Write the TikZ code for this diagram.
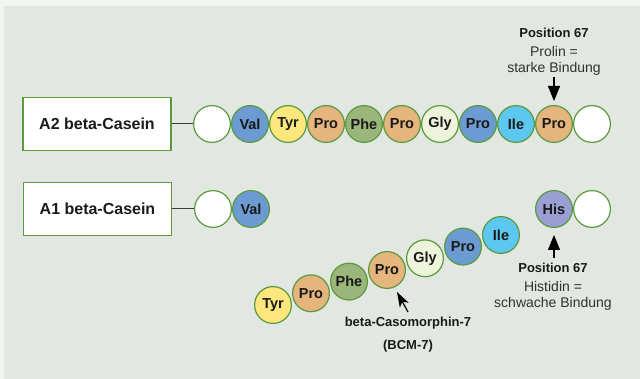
\documentclass[tikz,border=0pt]{standalone}
\usepackage{fontspec}
\setmainfont{Liberation Sans}
\usepackage{tikz}
\usetikzlibrary{shapes, arrows.meta, positioning}
\definecolor{outerbg}{HTML}{F1F6F2}
\definecolor{panelbg}{HTML}{E2E7E1}
\definecolor{ringgreen}{HTML}{5B9A3F}
\definecolor{valblue}{HTML}{6B9BD2}
\definecolor{tyryellow}{HTML}{FDE77C}
\definecolor{proorange}{HTML}{E5B57D}
\definecolor{phegreen}{HTML}{9BB67A}
\definecolor{glypale}{HTML}{EEF4DC}
\definecolor{ilecyan}{HTML}{5CC7EF}
\definecolor{hispurple}{HTML}{9A9ED2}
\definecolor{inkdark}{HTML}{1A1A1A}
\tikzstyle{caseinbox} = [draw=ringgreen, fill=white, line width=1.5pt, rectangle, minimum width=148pt, minimum height=53pt, font=\fontsize{16}{18}\selectfont\bfseries, text=inkdark]
\tikzstyle{aminoring} = [draw=ringgreen, line width=1.2pt, circle, minimum size=36.8pt, inner sep=0pt, font=\fontsize{14.5}{16}\selectfont\bfseries, text=inkdark]
\tikzstyle{posttitle} = [font=\fontsize{13}{15}\selectfont\bfseries, text=inkdark]
\tikzstyle{postnote} = [align=center, font=\fontsize{14}{15.5}\selectfont, text=inkdark!90]
\tikzstyle{linker} = [draw=inkdark!85, line width=1pt]
\tikzstyle{pointer} = [draw=black, line width=1.2pt]

\begin{document}
\begin{tikzpicture}[x=1pt, y=-1pt]
	\useasboundingbox[fill=outerbg] (0,0) rectangle (640,379);
	\fill[panelbg] (4,6) rectangle (640,379);

	% A2 beta-Casein
	\node [caseinbox] (boxA) at (97,124) {A2 beta-Casein};
	\node [aminoring, fill=white] (a0) at (212,124) {};
	\node [aminoring, fill=valblue, right=0pt of a0] (a1) {Val};
	\node [aminoring, fill=tyryellow, right=0pt of a1] (a2) {Tyr};
	\node [aminoring, fill=proorange, right=0pt of a2] (a3) {Pro};
	\node [aminoring, fill=phegreen, right=0pt of a3] (a4) {Phe};
	\node [aminoring, fill=proorange, right=0pt of a4] (a5) {Pro};
	\node [aminoring, fill=glypale, right=0pt of a5] (a6) {Gly};
	\node [aminoring, fill=valblue, right=0pt of a6] (a7) {Pro};
	\node [aminoring, fill=ilecyan, right=0pt of a7] (a8) {Ile};
	\node [aminoring, fill=proorange, right=0pt of a8] (a9) {Pro};
	\node [aminoring, fill=white, right=0pt of a9] (a10) {};
	\draw [linker] (boxA.east) -- (a0.west);

	\node [posttitle] (topPos) at (554,33) {Position 67};
	\node [postnote] (topNote) at (554,61) {Prolin =\\starke Bindung};
	\coordinate (topTail) at (554,77);
	\draw [pointer, -{Triangle[width=12pt,length=15pt]}, shorten >=4pt] (topTail) -- (a9.north);

	% A1 beta-Casein
	\node [caseinbox] (boxB) at (97.5,209) {A1 beta-Casein};
	\node [aminoring, fill=white] (b0) at (213,209) {};
	\node [aminoring, fill=valblue, right=0pt of b0] (b1) {Val};
	\node [aminoring, fill=tyryellow] (b2) at (273,305) {Tyr};
	\node [aminoring, fill=proorange] (b3) at (311,293.3) {Pro};
	\node [aminoring, fill=phegreen] (b4) at (349,281.6) {Phe};
	\node [aminoring, fill=proorange] (b5) at (387,270) {Pro};
	\node [aminoring, fill=glypale] (b6) at (425,258.3) {Gly};
	\node [aminoring, fill=valblue] (b7) at (463,246.6) {Pro};
	\node [aminoring, fill=ilecyan] (b8) at (501,235) {Ile};
	\node [aminoring, fill=hispurple] (b9) at (554,209) {His};
	\node [aminoring, fill=white, right=0pt of b9] (b10) {};
	\draw [linker] (boxB.east) -- (b0.west);

	\coordinate (lowTail) at (554,258);
	\draw [pointer, -{Triangle[width=12pt,length=15pt]}, shorten >=7pt] (lowTail) -- (b9.south);
	\node [posttitle] (lowPos) at (553,268) {Position 67};
	\node [postnote] (lowNote) at (553,296) {Histidin =\\schwache Bindung};

	\coordinate (bcmTail) at (408,312);
	\coordinate (bcmTip) at (397,292);
	\draw [pointer, -{Stealth[width=10pt,length=15pt,inset=4pt]}] (bcmTail) -- (bcmTip);
	\node [posttitle] (bcmName) at (408,323) {beta-Casomorphin-7};
	\node [posttitle] (bcmShort) at (408,346) {(BCM-7)};
\end{tikzpicture}
\end{document}
